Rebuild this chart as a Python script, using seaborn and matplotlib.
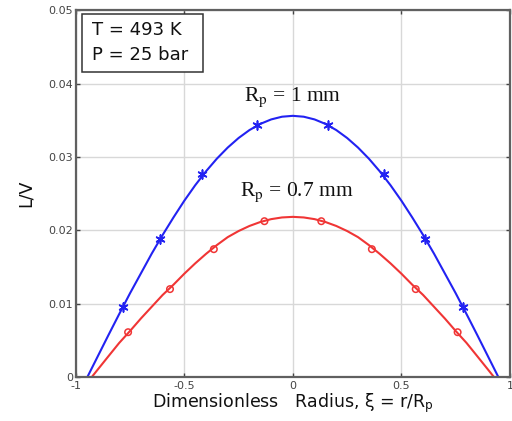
import matplotlib
matplotlib.use("Agg")
import matplotlib.pyplot as plt
from matplotlib.patches import Rectangle
import seaborn as sns

# curves
xi = [-0.947, -0.9, -0.85, -0.8, -0.75, -0.7, -0.65, -0.6, -0.55, -0.5, -0.45, -0.4, -0.35,
      -0.3, -0.25, -0.2, -0.15, -0.1, -0.05, 0.0,
      0.05, 0.1, 0.15, 0.2, 0.25, 0.3, 0.35, 0.4, 0.45, 0.5, 0.55, 0.6, 0.65,
      0.7, 0.75, 0.8, 0.85, 0.9, 0.947]
lv_1mm = [0.0, 0.00277, 0.00571, 0.00860, 0.01144, 0.01414, 0.01684, 0.01937, 0.02176, 0.02404,
          0.02614, 0.02805, 0.02977, 0.03128, 0.03258, 0.03366, 0.03450, 0.03511, 0.03548, 0.0356,
          0.03548, 0.03511, 0.03450, 0.03366, 0.03258, 0.03128, 0.02977, 0.02805, 0.02614,
          0.02404, 0.02176, 0.01937, 0.01684, 0.01414, 0.01144, 0.00860, 0.00571, 0.00277, 0.0]

xi_r = [-0.927, -0.9, -0.85, -0.8, -0.75, -0.7, -0.65, -0.6, -0.55, -0.5, -0.45, -0.4, -0.35,
        -0.3, -0.25, -0.2, -0.15, -0.1, -0.05, 0.0,
        0.05, 0.1, 0.15, 0.2, 0.25, 0.3, 0.35, 0.4, 0.45, 0.5, 0.55, 0.6, 0.65,
        0.7, 0.75, 0.8, 0.85, 0.9, 0.927]
lv_07mm = [0.0, 0.0010, 0.00284, 0.00467, 0.0063, 0.0080, 0.0096, 0.0112, 0.0126, 0.0141,
           0.0155, 0.0168, 0.0180, 0.01908, 0.01991, 0.02060, 0.02114, 0.02153, 0.02176, 0.02184,
           0.02176, 0.02153, 0.02114, 0.02060, 0.01991, 0.01908, 0.0180, 0.0168, 0.0155,
           0.0141, 0.0126, 0.0112, 0.0096, 0.0080, 0.0063, 0.00467, 0.00284, 0.0010, 0.0]

# markers
mk_x_1mm = [-0.783, -0.61, -0.42, -0.163, 0.163, 0.42, 0.61, 0.783]
mk_y_1mm = [0.00954, 0.0188, 0.02766, 0.0343, 0.0343, 0.02766, 0.0188, 0.00954]
mk_x_07mm = [-0.759, -0.566, -0.364, -0.131, 0.131, 0.364, 0.566, 0.759]
mk_y_07mm = [0.00613, 0.0120, 0.01744, 0.02125, 0.02125, 0.01744, 0.0120, 0.00613]

xticks = [-1, -0.5, 0, 0.5, 1]
xticklabels = ["-1", "-0.5", "0", "0.5", "1"]
yticks = [0, 0.01, 0.02, 0.03, 0.04, 0.05]
yticklabels = ["0", "0.01", "0.02", "0.03", "0.04", "0.05"]

sns.set_style("whitegrid")
plt.rcParams["font.family"] = ["DejaVu Sans"]
plt.rcParams["mathtext.fontset"] = "stix"

fig = plt.figure(figsize=(5.12, 4.21), dpi=100)
ax = fig.add_axes([0.148, 0.104, 0.848, 0.872])

blue = "#2222f2"
red = "#f03535"
sns.lineplot(x=xi, y=lv_1mm, ax=ax, color=blue, lw=1.5, sort=False)
sns.lineplot(x=xi_r, y=lv_07mm, ax=ax, color=red, lw=1.5, sort=False)
sns.scatterplot(x=mk_x_1mm, y=mk_y_1mm, ax=ax, marker=(6, 2, 0), s=40,
                color=blue, edgecolor=blue, linewidth=1.2, zorder=3)
sns.scatterplot(x=mk_x_07mm, y=mk_y_07mm, ax=ax, marker="o", s=22,
                facecolor="none", edgecolor=red, linewidth=1.1, zorder=3)

ax.set_xlim(-1, 1)
ax.set_ylim(0, 0.05)
ax.set_xticks(xticks)
ax.set_xticklabels(xticklabels)
ax.set_yticks(yticks)
ax.set_yticklabels(yticklabels)
ax.grid(True, color="#d8d8d8", lw=1.0)
ax.tick_params(direction="in", length=3, labelsize=8, colors="#444444",
               top=True, right=True, bottom=True, left=True, width=1)
ax.tick_params(axis="x", pad=3)
ax.tick_params(axis="y", pad=2)
for sp in ax.spines.values():
    sp.set_color("#606060")
    sp.set_linewidth(1.6)

ax.set_xlabel(r"Dimensionless   Radius, ξ = r/R$_\mathregular{p}$", fontsize=12.5,
              color="#111111", labelpad=0)
ax.set_ylabel("L/V", fontsize=12.5, color="#111111", labelpad=10)

# info box
ax.add_patch(Rectangle((0.014, 0.831), 0.279, 0.158, transform=ax.transAxes,
                       fc="white", ec="#333333", lw=1.1, zorder=4))
ax.text(0.037, 0.945, "T = 493 K", transform=ax.transAxes, fontsize=13,
        va="center", ha="left", color="#111111", zorder=5)
ax.text(0.037, 0.877, "P = 25 bar", transform=ax.transAxes, fontsize=13,
        va="center", ha="left", color="#111111", zorder=5)

ax.text(0.0, 0.0381, r"R$_\mathrm{p}$ = 1 mm", fontsize=15.5, ha="center", va="center",
        family="Liberation Serif", color="#111111")
ax.text(0.02, 0.0252, r"R$_\mathrm{p}$ = 0.7 mm", fontsize=15.5, ha="center", va="center",
        family="Liberation Serif", color="#111111")

fig.savefig("out.png", dpi=100)
